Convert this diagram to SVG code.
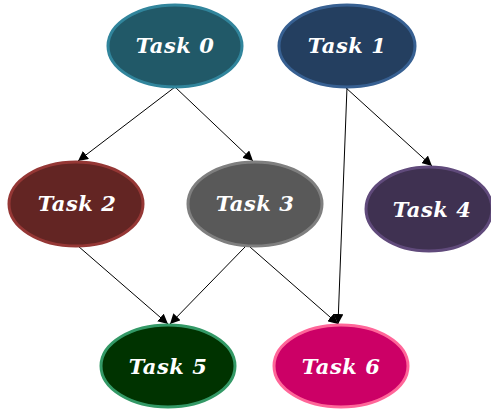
<svg xmlns="http://www.w3.org/2000/svg" width="491" height="410" viewBox="0 0 491 410">
<style>
.n ellipse{stroke-width:3}
.n text{font-family:"DejaVu Serif","Liberation Serif",serif;font-weight:bold;font-style:italic;font-size:21px;fill:#fff;text-anchor:middle;letter-spacing:0.5px}
.e line{stroke:#000;stroke-width:1;marker-end:url(#a)}
</style>
<defs>
<marker id="a" viewBox="0 0 10 10" refX="10" refY="5" markerWidth="10" markerHeight="10" markerUnits="userSpaceOnUse" orient="auto">
<path d="M0,0 L10,5 L0,10 z" fill="#000"/>
</marker>
</defs>
<rect width="491" height="410" fill="#fff"/>
<g class="e">
<line x1="175" y1="87" x2="78" y2="161"/>
<line x1="175" y1="87" x2="253" y2="161"/>
<line x1="345" y1="87" x2="432" y2="166"/>
<line x1="347" y1="87" x2="338" y2="324"/>
<line x1="78" y1="246" x2="168" y2="324"/>
<line x1="245" y1="247" x2="170" y2="324"/>
<line x1="250" y1="247" x2="338" y2="324"/>
</g>
<g id="task0" class="n"><ellipse cx="175" cy="46" rx="67" ry="41" fill="#215968" stroke="#31859C"/><text x="175" y="53">Task 0</text></g>
<g id="task1" class="n"><ellipse cx="347" cy="46" rx="68" ry="41" fill="#243F60" stroke="#376092"/><text x="347" y="53">Task 1</text></g>
<g id="task2" class="n"><ellipse cx="76" cy="204" rx="67" ry="42" fill="#632523" stroke="#953735"/><text x="77" y="211">Task 2</text></g>
<g id="task3" class="n"><ellipse cx="255" cy="204" rx="67" ry="42" fill="#595959" stroke="#7F7F7F"/><text x="255" y="211">Task 3</text></g>
<g id="task4" class="n"><ellipse cx="429" cy="209" rx="63" ry="42" fill="#3F3151" stroke="#604A7B"/><text x="432" y="217">Task 4</text></g>
<g id="task5" class="n"><ellipse cx="168" cy="366" rx="67" ry="41" fill="#003300" stroke="#339966"/><text x="168" y="374">Task 5</text></g>
<g id="task6" class="n"><ellipse cx="341" cy="366" rx="67" ry="41" fill="#CC0066" stroke="#FF6699"/><text x="341" y="374">Task 6</text></g>
</svg>
